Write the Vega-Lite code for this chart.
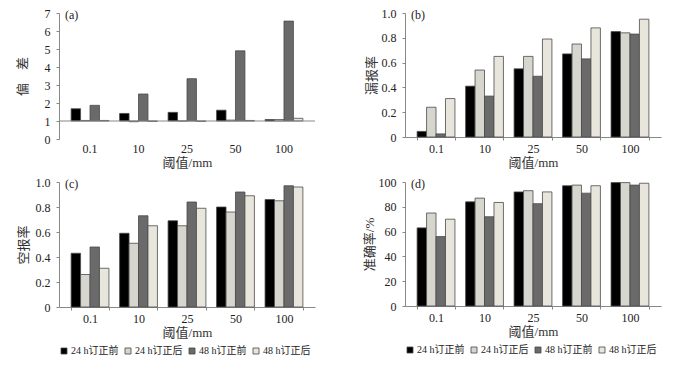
{
  "$schema": "https://vega.github.io/schema/vega-lite/v6.json",
  "background": "white",
  "padding": {"left": 16, "top": 7, "right": 2, "bottom": 2},
  "datasets": {
    "d": [
      {"panel": "a", "threshold": "0.1", "series": "24 h订正前", "value": 1.68},
      {"panel": "a", "threshold": "0.1", "series": "24 h订正后", "value": 1.03},
      {"panel": "a", "threshold": "0.1", "series": "48 h订正前", "value": 1.87},
      {"panel": "a", "threshold": "0.1", "series": "48 h订正后", "value": 1.03},
      {"panel": "a", "threshold": "10", "series": "24 h订正前", "value": 1.42},
      {"panel": "a", "threshold": "10", "series": "24 h订正后", "value": 0.96},
      {"panel": "a", "threshold": "10", "series": "48 h订正前", "value": 2.5},
      {"panel": "a", "threshold": "10", "series": "48 h订正后", "value": 0.98},
      {"panel": "a", "threshold": "25", "series": "24 h订正前", "value": 1.48},
      {"panel": "a", "threshold": "25", "series": "24 h订正后", "value": 1.0},
      {"panel": "a", "threshold": "25", "series": "48 h订正前", "value": 3.35},
      {"panel": "a", "threshold": "25", "series": "48 h订正后", "value": 0.98},
      {"panel": "a", "threshold": "50", "series": "24 h订正前", "value": 1.6},
      {"panel": "a", "threshold": "50", "series": "24 h订正后", "value": 1.05},
      {"panel": "a", "threshold": "50", "series": "48 h订正前", "value": 4.9},
      {"panel": "a", "threshold": "50", "series": "48 h订正后", "value": 1.03},
      {"panel": "a", "threshold": "100", "series": "24 h订正前", "value": 1.08},
      {"panel": "a", "threshold": "100", "series": "24 h订正后", "value": 1.08},
      {"panel": "a", "threshold": "100", "series": "48 h订正前", "value": 6.55},
      {"panel": "a", "threshold": "100", "series": "48 h订正后", "value": 1.15},
      {"panel": "b", "threshold": "0.1", "series": "24 h订正前", "value": 0.045},
      {"panel": "b", "threshold": "0.1", "series": "24 h订正后", "value": 0.24},
      {"panel": "b", "threshold": "0.1", "series": "48 h订正前", "value": 0.025},
      {"panel": "b", "threshold": "0.1", "series": "48 h订正后", "value": 0.31},
      {"panel": "b", "threshold": "10", "series": "24 h订正前", "value": 0.41},
      {"panel": "b", "threshold": "10", "series": "24 h订正后", "value": 0.54},
      {"panel": "b", "threshold": "10", "series": "48 h订正前", "value": 0.33},
      {"panel": "b", "threshold": "10", "series": "48 h订正后", "value": 0.65},
      {"panel": "b", "threshold": "25", "series": "24 h订正前", "value": 0.55},
      {"panel": "b", "threshold": "25", "series": "24 h订正后", "value": 0.65},
      {"panel": "b", "threshold": "25", "series": "48 h订正前", "value": 0.49},
      {"panel": "b", "threshold": "25", "series": "48 h订正后", "value": 0.79},
      {"panel": "b", "threshold": "50", "series": "24 h订正前", "value": 0.67},
      {"panel": "b", "threshold": "50", "series": "24 h订正后", "value": 0.75},
      {"panel": "b", "threshold": "50", "series": "48 h订正前", "value": 0.63},
      {"panel": "b", "threshold": "50", "series": "48 h订正后", "value": 0.88},
      {"panel": "b", "threshold": "100", "series": "24 h订正前", "value": 0.85},
      {"panel": "b", "threshold": "100", "series": "24 h订正后", "value": 0.84},
      {"panel": "b", "threshold": "100", "series": "48 h订正前", "value": 0.83},
      {"panel": "b", "threshold": "100", "series": "48 h订正后", "value": 0.95},
      {"panel": "c", "threshold": "0.1", "series": "24 h订正前", "value": 0.43},
      {"panel": "c", "threshold": "0.1", "series": "24 h订正后", "value": 0.26},
      {"panel": "c", "threshold": "0.1", "series": "48 h订正前", "value": 0.48},
      {"panel": "c", "threshold": "0.1", "series": "48 h订正后", "value": 0.31},
      {"panel": "c", "threshold": "10", "series": "24 h订正前", "value": 0.59},
      {"panel": "c", "threshold": "10", "series": "24 h订正后", "value": 0.51},
      {"panel": "c", "threshold": "10", "series": "48 h订正前", "value": 0.73},
      {"panel": "c", "threshold": "10", "series": "48 h订正后", "value": 0.65},
      {"panel": "c", "threshold": "25", "series": "24 h订正前", "value": 0.69},
      {"panel": "c", "threshold": "25", "series": "24 h订正后", "value": 0.65},
      {"panel": "c", "threshold": "25", "series": "48 h订正前", "value": 0.84},
      {"panel": "c", "threshold": "25", "series": "48 h订正后", "value": 0.79},
      {"panel": "c", "threshold": "50", "series": "24 h订正前", "value": 0.8},
      {"panel": "c", "threshold": "50", "series": "24 h订正后", "value": 0.76},
      {"panel": "c", "threshold": "50", "series": "48 h订正前", "value": 0.92},
      {"panel": "c", "threshold": "50", "series": "48 h订正后", "value": 0.89},
      {"panel": "c", "threshold": "100", "series": "24 h订正前", "value": 0.86},
      {"panel": "c", "threshold": "100", "series": "24 h订正后", "value": 0.85},
      {"panel": "c", "threshold": "100", "series": "48 h订正前", "value": 0.97},
      {"panel": "c", "threshold": "100", "series": "48 h订正后", "value": 0.96},
      {"panel": "d", "threshold": "0.1", "series": "24 h订正前", "value": 63},
      {"panel": "d", "threshold": "0.1", "series": "24 h订正后", "value": 75},
      {"panel": "d", "threshold": "0.1", "series": "48 h订正前", "value": 56},
      {"panel": "d", "threshold": "0.1", "series": "48 h订正后", "value": 70},
      {"panel": "d", "threshold": "10", "series": "24 h订正前", "value": 84},
      {"panel": "d", "threshold": "10", "series": "24 h订正后", "value": 87},
      {"panel": "d", "threshold": "10", "series": "48 h订正前", "value": 72},
      {"panel": "d", "threshold": "10", "series": "48 h订正后", "value": 83.5},
      {"panel": "d", "threshold": "25", "series": "24 h订正前", "value": 92},
      {"panel": "d", "threshold": "25", "series": "24 h订正后", "value": 93},
      {"panel": "d", "threshold": "25", "series": "48 h订正前", "value": 82.5},
      {"panel": "d", "threshold": "25", "series": "48 h订正后", "value": 92},
      {"panel": "d", "threshold": "50", "series": "24 h订正前", "value": 97},
      {"panel": "d", "threshold": "50", "series": "24 h订正后", "value": 97.5},
      {"panel": "d", "threshold": "50", "series": "48 h订正前", "value": 91},
      {"panel": "d", "threshold": "50", "series": "48 h订正后", "value": 97},
      {"panel": "d", "threshold": "100", "series": "24 h订正前", "value": 99.5},
      {"panel": "d", "threshold": "100", "series": "24 h订正后", "value": 99.5},
      {"panel": "d", "threshold": "100", "series": "48 h订正前", "value": 97.5},
      {"panel": "d", "threshold": "100", "series": "48 h订正后", "value": 99}
    ]
  },
  "columns": 2,
  "spacing": {"row": 7, "column": 47},
  "resolve": {"scale": {"color": "independent", "x": "independent", "y": "independent"}, "legend": {"color": "independent"}},
  "concat": [
    {
      "width": 256, "height": 126,
      "title": {"text": "(a)", "anchor": "start", "frame": "group", "offset": -15, "dx": 6},
      "layer": [
        {
          "data": {"name": "d"},
          "transform": [{"filter": "datum.panel == 'a'"}],
          "mark": {"type": "bar", "stroke": "#4a4a4a", "strokeWidth": 0.8},
          "encoding": {
            "x": {"field": "threshold", "type": "nominal", "sort": ["0.1", "10", "25", "50", "100"], "scale": {"paddingInner": 0.22, "paddingOuter": 0.25}, "axis": {"title": "阈值/mm", "labelAngle": 0, "domain": false, "ticks": false, "labelPadding": 4}},
            "xOffset": {"field": "series", "type": "nominal", "sort": ["24 h订正前", "24 h订正后", "48 h订正前", "48 h订正后"]},
            "y": {"field": "value", "type": "quantitative", "scale": {"domain": [0, 7], "nice": false}, "axis": {"title": "偏　差", "values": [0, 1, 2, 3, 4, 5, 6, 7], "labelOverlap": false, "titlePadding": 15}},
            "y2": {"datum": 1},
            "color": {"field": "series", "type": "nominal", "scale": {"domain": ["24 h订正前", "24 h订正后", "48 h订正前", "48 h订正后"], "range": ["#000000", "#d6d5ce", "#6a6a6a", "#e8e6dc"]}, "legend": null}
          }
        },
        {
          "data": {"values": [{}]},
          "mark": {"type": "rule", "color": "#888888", "strokeWidth": 1},
          "encoding": {"y": {"datum": 1, "type": "quantitative", "axis": {"title": "偏　差", "values": [0, 1, 2, 3, 4, 5, 6, 7], "labelOverlap": false, "titlePadding": 15}}}
        }
      ]
    },
    {
      "width": 256, "height": 124,
      "title": {"text": "(b)", "anchor": "start", "frame": "group", "offset": -15, "dx": 6},
      "data": {"name": "d"},
      "transform": [{"filter": "datum.panel == 'b'"}],
      "mark": {"type": "bar", "stroke": "#4a4a4a", "strokeWidth": 0.8},
      "encoding": {
        "x": {"field": "threshold", "type": "nominal", "sort": ["0.1", "10", "25", "50", "100"], "scale": {"paddingInner": 0.22, "paddingOuter": 0.25}, "axis": {"title": "阈值/mm", "labelAngle": 0, "tickBand": "extent"}},
        "xOffset": {"field": "series", "type": "nominal", "sort": ["24 h订正前", "24 h订正后", "48 h订正前", "48 h订正后"]},
        "y": {"field": "value", "type": "quantitative", "scale": {"domain": [0, 1], "nice": false}, "axis": {"title": "漏报率", "titlePadding": 3, "values": [0, 0.2, 0.4, 0.6, 0.8, 1.0], "labelOverlap": false, "labelExpr": "datum.value == 0 ? '0' : format(datum.value, '.1f')"}},
        "color": {"field": "series", "type": "nominal", "scale": {"domain": ["24 h订正前", "24 h订正后", "48 h订正前", "48 h订正后"], "range": ["#000000", "#d6d5ce", "#6a6a6a", "#e8e6dc"]}, "legend": null}
      }
    },
    {
      "width": 256, "height": 125,
      "title": {"text": "(c)", "anchor": "start", "frame": "group", "offset": -15, "dx": 6},
      "data": {"name": "d"},
      "transform": [{"filter": "datum.panel == 'c'"}],
      "mark": {"type": "bar", "stroke": "#4a4a4a", "strokeWidth": 0.8},
      "encoding": {
        "x": {"field": "threshold", "type": "nominal", "sort": ["0.1", "10", "25", "50", "100"], "scale": {"paddingInner": 0.22, "paddingOuter": 0.25}, "axis": {"title": "阈值/mm", "labelAngle": 0, "tickBand": "extent"}},
        "xOffset": {"field": "series", "type": "nominal", "sort": ["24 h订正前", "24 h订正后", "48 h订正前", "48 h订正后"]},
        "y": {"field": "value", "type": "quantitative", "scale": {"domain": [0, 1], "nice": false}, "axis": {"title": "空报率", "titlePadding": 5, "values": [0, 0.2, 0.4, 0.6, 0.8, 1.0], "labelOverlap": false, "labelExpr": "datum.value == 0 ? '0' : format(datum.value, '.1f')"}},
        "color": {"field": "series", "type": "nominal", "scale": {"domain": ["24 h订正前", "24 h订正后", "48 h订正前", "48 h订正后"], "range": ["#000000", "#d6d5ce", "#6a6a6a", "#e8e6dc"]}, "legend": {"orient": "bottom", "direction": "horizontal", "title": null}}
      }
    },
    {
      "width": 256, "height": 124,
      "title": {"text": "(d)", "anchor": "start", "frame": "group", "offset": -15, "dx": 6},
      "data": {"name": "d"},
      "transform": [{"filter": "datum.panel == 'd'"}],
      "mark": {"type": "bar", "stroke": "#4a4a4a", "strokeWidth": 0.8},
      "encoding": {
        "x": {"field": "threshold", "type": "nominal", "sort": ["0.1", "10", "25", "50", "100"], "scale": {"paddingInner": 0.22, "paddingOuter": 0.25}, "axis": {"title": "阈值/mm", "labelAngle": 0, "tickBand": "extent"}},
        "xOffset": {"field": "series", "type": "nominal", "sort": ["24 h订正前", "24 h订正后", "48 h订正前", "48 h订正后"]},
        "y": {"field": "value", "type": "quantitative", "scale": {"domain": [0, 100], "nice": false}, "axis": {"title": "准确率/%", "titlePadding": 2, "values": [0, 20, 40, 60, 80, 100], "labelOverlap": false}},
        "color": {"field": "series", "type": "nominal", "scale": {"domain": ["24 h订正前", "24 h订正后", "48 h订正前", "48 h订正后"], "range": ["#000000", "#d6d5ce", "#6a6a6a", "#e8e6dc"]}, "legend": {"orient": "bottom", "direction": "horizontal", "title": null}}
      }
    }
  ],
  "config": {
    "font": "Liberation Serif, Noto Sans CJK SC",
    "view": {"stroke": null},
    "title": {"fontSize": 12, "fontWeight": "normal", "color": "#222222", "font": "Liberation Serif, Noto Sans CJK SC"},
    "axis": {
      "labelFont": "Liberation Serif, Noto Sans CJK SC",
      "titleFont": "Liberation Serif, Noto Sans CJK SC",
      "labelFontSize": 12,
      "titleFontSize": 13,
      "titleFontWeight": "normal",
      "labelColor": "#222222",
      "titleColor": "#333333",
      "domainColor": "#888888",
      "tickColor": "#888888",
      "tickSize": 3,
      "grid": false,
      "labelPadding": 6
    },
    "axisX": {"titlePadding": 2, "labelPadding": 3},
    "legend": {
      "labelFont": "Liberation Serif, Noto Sans CJK SC",
      "labelFontSize": 10,
      "labelColor": "#222222",
      "symbolType": "square",
      "symbolSize": 36,
      "symbolStrokeWidth": 0.8,
      "symbolStrokeColor": "#444444",
      "columnPadding": 4,
      "labelOffset": 2,
      "offset": 7,
      "padding": 0
    }
  }
}
